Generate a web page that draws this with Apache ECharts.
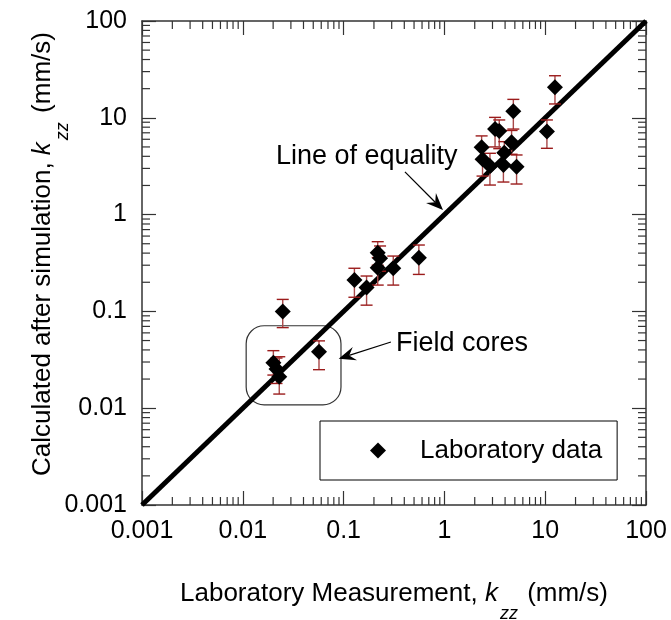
<!DOCTYPE html>
<html><head><meta charset="utf-8">
<script src="https://cdn.jsdelivr.net/npm/echarts@6/dist/echarts.min.js"></script>
<style>html,body{margin:0;padding:0;background:#fff}#c{width:671px;height:620px}</style>
</head><body><div id="c"></div>
<script>
// ---- data ----
const labMeasured = [12.5, 10.4, 4.83, 3.18, 3.5, 4.64, 2.34, 2.39, 2.83, 3.85, 3.93, 5.2,
  0.128, 0.169, 0.218, 0.23, 0.218, 0.311, 0.558, 0.0249,
  0.0201, 0.0216, 0.0230, 0.057];
const simulated = [20.7, 7.2, 11.7, 7.65, 7.3, 5.58, 4.95, 3.73, 3.18, 3.25, 4.36, 3.13,
  0.211, 0.177, 0.404, 0.354, 0.283, 0.279, 0.359, 0.1,
  0.0295, 0.0254, 0.0211, 0.0384];
const simLow = [13.9, 4.84, 7.65, 5.0, 4.8, 4.2, 3.7, 2.5, 2.02, 2.17, 3.3, 2.07,
  0.14, 0.116, 0.30, 0.26, 0.187, 0.187, 0.241, 0.068,
  0.022, 0.018, 0.014, 0.025];
const simHigh = [27.2, 9.5, 15.5, 10.1, 9.5, 7.4, 6.5, 4.9, 4.3, 4.3, 5.67, 4.13,
  0.279, 0.232, 0.525, 0.474, 0.36, 0.373, 0.485, 0.133,
  0.0393, 0.033, 0.034, 0.0496];
const tickLabels = ['0.001', '0.01', '0.1', '1', '10', '100'];
const equalityLine = [[0.001, 0.001], [100, 100]];
const minorTickValues = [0.002,0.003,0.004,0.005,0.006,0.007,0.008,0.009,
  0.02,0.03,0.04,0.05,0.06,0.07,0.08,0.09,
  0.2,0.3,0.4,0.5,0.6,0.7,0.8,0.9,
  2,3,4,5,6,7,8,9,
  20,30,40,50,60,70,80,90];
const fieldBox = [[0.0108, 0.0711], [0.0942, 0.0108]];
const equalityNote = {text: 'Line of equality', at: [0.0213, 3.94], from: [0.406, 2.76], to: [0.968, 1.116]};
const fieldNote = {text: 'Field cores', at: [0.331, 0.046], from: [0.295, 0.0483], to: [0.0894, 0.0324]};

// ---- chart ----
const FONT = "'Liberation Sans', Arial, Helvetica, sans-serif";
const chart = echarts.init(document.getElementById('c'), null, {renderer: 'canvas'});
const points = labMeasured.map((x, i) => [x, simulated[i]]);
const errData = labMeasured.map((x, i) => [x, simulated[i], simLow[i], simHigh[i]]);
const fmt = v => tickLabels[Math.round(Math.log10(v)) + 3];

const nameRich = {
  a: {fontSize: 26, fontFamily: FONT, color: '#000', verticalAlign: 'top', lineHeight: 26},
  b: {fontSize: 26, fontFamily: FONT, color: '#000', verticalAlign: 'top', lineHeight: 26, padding: [0, 0, 0, 18]},
  k: {fontSize: 26, fontFamily: FONT, color: '#000', fontStyle: 'italic', verticalAlign: 'top', lineHeight: 26},
  s: {fontSize: 18, fontFamily: FONT, color: '#000', fontStyle: 'italic', verticalAlign: 'top', lineHeight: 18, padding: [24, 2, 0, 2]}
};
const axisCommon = {
  type: 'log', logBase: 10, min: 0.001, max: 100,
  axisLine: {show: true, lineStyle: {color: '#333', width: 1.5}},
  axisTick: {show: true, inside: true, length: 14, lineStyle: {color: '#333', width: 1.2}},
  splitLine: {show: false},
  minorTick: {show: false}
};

chart.setOption({
  animation: false,
  backgroundColor: '#fff',
  grid: {left: 142, right: 25, top: 21, bottom: 115, containLabel: false, outerBoundsMode: 'none'},
  xAxis: [
    Object.assign({}, axisCommon, {
      position: 'bottom',
      name: '{a|Laboratory Measurement, }{k|k}{s|zz}{a| (mm/s)}',
      nameLocation: 'middle', nameGap: 76, nameMoveOverlap: false,
      nameTextStyle: {rich: nameRich},
      axisLabel: {show: true, formatter: fmt, fontSize: 25, fontFamily: FONT, color: '#000', margin: 14, showMinLabel: true, showMaxLabel: true}
    }),
    Object.assign({}, axisCommon, {position: 'top', axisLabel: {show: false}})
  ],
  yAxis: [
    Object.assign({}, axisCommon, {
      position: 'left',
      name: '{b|Calculated after simulation, }{k|k}{s|zz}{a| (mm/s)}',
      nameLocation: 'middle', nameGap: 86, nameMoveOverlap: false,
      nameTextStyle: {rich: nameRich},
      axisLabel: {show: true, formatter: fmt, fontSize: 25, fontFamily: FONT, color: '#000', margin: 15, showMinLabel: true, showMaxLabel: true}
    }),
    Object.assign({}, axisCommon, {position: 'right', axisLabel: {show: false}})
  ],
  legend: {
    show: true, data: [{name: 'Laboratory data', icon: 'diamond'}],
    left: 320, top: 421, orient: 'horizontal',
    padding: [16, 15, 16, 50],
    itemWidth: 16, itemHeight: 16,
    borderColor: '#000', borderWidth: 1, backgroundColor: '#fff',
    textStyle: {fontSize: 26, fontFamily: FONT, color: '#000', padding: [0, 0, 0, 29], lineHeight: 27}
  },
  series: [
    {
      type: 'custom', name: 'minorTicks', silent: true, z: 1,
      data: minorTickValues.map(v => [v, v]),
      renderItem: function (params, api) {
        const v = api.value(0);
        const p = api.coord([v, v]);
        const lb = api.coord([0.001, 0.001]);
        const rt = api.coord([100, 100]);
        const L = 8;
        const st = {stroke: '#333', lineWidth: 1.2};
        return {type: 'group', children: [
          {type: 'line', shape: {x1: p[0], y1: lb[1], x2: p[0], y2: lb[1] - L}, style: st},
          {type: 'line', shape: {x1: p[0], y1: rt[1], x2: p[0], y2: rt[1] + L}, style: st},
          {type: 'line', shape: {x1: lb[0], y1: p[1], x2: lb[0] + L, y2: p[1]}, style: st},
          {type: 'line', shape: {x1: rt[0], y1: p[1], x2: rt[0] - L, y2: p[1]}, style: st}
        ]};
      }
    },
    {
      type: 'line', name: 'equality', data: equalityLine, showSymbol: false, symbol: 'none',
      lineStyle: {color: '#000', width: 5}, z: 3, silent: true
    },
    {
      type: 'custom', name: 'errorbars', z: 4, silent: true,
      data: errData,
      renderItem: function (params, api) {
        const x = api.value(0);
        const lo = api.coord([x, api.value(2)]);
        const hi = api.coord([x, api.value(3)]);
        const w = 6;
        const st = {stroke: '#9b1b1b', lineWidth: 1.4};
        return {type: 'group', children: [
          {type: 'line', shape: {x1: lo[0], y1: lo[1], x2: hi[0], y2: hi[1]}, style: {stroke: '#a84848', lineWidth: 1.4}},
          {type: 'line', shape: {x1: lo[0] - w, y1: lo[1], x2: lo[0] + w, y2: lo[1]}, style: st},
          {type: 'line', shape: {x1: hi[0] - w, y1: hi[1], x2: hi[0] + w, y2: hi[1]}, style: st}
        ]};
      }
    },
    {
      type: 'scatter', name: 'Laboratory data', data: points,
      symbol: 'diamond', symbolSize: 16, z: 5,
      itemStyle: {color: '#000', opacity: 1}
    }
  ]
});

// ---- annotations placed in data space ----
function px(p) { return chart.convertToPixel({gridIndex: 0}, p); }
function arrow(from, to) {
  const a = px(from), b = px(to);
  const dx = b[0] - a[0], dy = b[1] - a[1];
  const len = Math.hypot(dx, dy);
  const ux = dx / len, uy = dy / len;
  const nx = -uy, ny = ux;
  const hl = 17, hw = 7, notch = 11;
  const base = [b[0] - ux * hl, b[1] - uy * hl];
  const nb = [b[0] - ux * notch, b[1] - uy * notch];
  return [
    {type: 'line', shape: {x1: a[0], y1: a[1], x2: nb[0], y2: nb[1]}, style: {stroke: '#000', lineWidth: 1.2}, z: 10},
    {type: 'polygon', shape: {points: [b, [base[0] + nx * hw, base[1] + ny * hw], nb, [base[0] - nx * hw, base[1] - ny * hw]]}, style: {fill: '#000'}, z: 10}
  ];
}
const b0 = px(fieldBox[0]), b1 = px(fieldBox[1]);
const t1 = px(equalityNote.at), t2 = px(fieldNote.at);
chart.setOption({
  graphic: [
    {type: 'rect', shape: {x: b0[0], y: b0[1], width: b1[0] - b0[0], height: b1[1] - b0[1], r: 18},
      style: {fill: 'none', stroke: '#333', lineWidth: 1.2}, z: 2},
    {type: 'text', x: t1[0], y: t1[1], style: {text: equalityNote.text, font: '27px ' + FONT, fill: '#000', textAlign: 'left', textVerticalAlign: 'middle'}, z: 10},
    {type: 'text', x: t2[0], y: t2[1], style: {text: fieldNote.text, font: '27px ' + FONT, fill: '#000', textAlign: 'left', textVerticalAlign: 'middle'}, z: 10}
  ].concat(arrow(equalityNote.from, equalityNote.to), arrow(fieldNote.from, fieldNote.to))
});
</script></body></html>
